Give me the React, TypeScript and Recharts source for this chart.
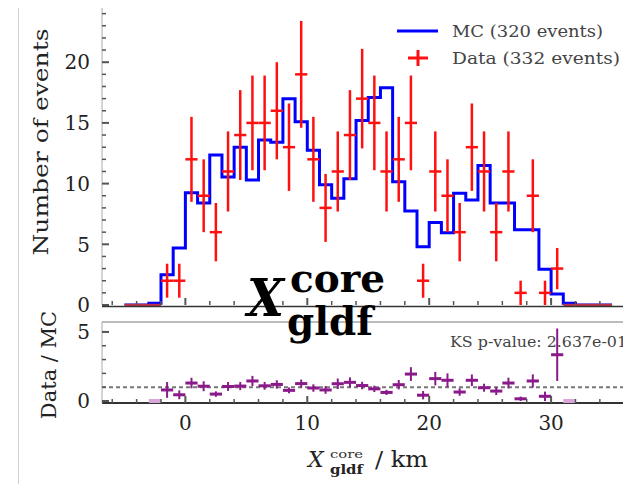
import React from 'react';
import { ComposedChart, Line, Scatter, ErrorBar, XAxis, YAxis, ReferenceLine, CartesianGrid } from 'recharts';

// histogram binning: 40 bins of 1 km starting at -5 km
const BIN_LO = -5;
const BIN_W = 1;

const MC_COUNTS = [
  0, 0, 0.15, 2.5, 4.7, 9.25, 8.4, 12.35, 10.55, 13.0,
  10.3, 13.6, 13.4, 17.0, 15.1, 12.75, 9.9, 8.8, 10.4, 15.2,
  17.1, 17.9, 10.15, 7.75, 4.8, 6.8, 5.95, 9.2, 8.65, 11.5,
  8.4, 8.4, 6.2, 6.2, 2.95, 0.9, 0.15, 0, 0, 0,
];

const DATA_COUNTS = [
  0, 0, 0, 2, 2, 12, 9, 6, 11, 14,
  15, 15, 16, 13, 19, 12, 8, 11, 14, 17,
  15, 11, 12, 15, 2, 11, 9, 6, 13, 11,
  6, 11, 1, 9, 1, 3, 0, 0, 0, 0,
];

const DATA_ERR = [
  0, 0, 0, 1.4, 1.4, 3.5, 3, 2.4, 3.3, 3.7,
  3.9, 3.9, 4, 3.6, 4.4, 3.5, 2.8, 3.3, 3.7, 4.1,
  3.9, 3.3, 3.5, 3.9, 1.4, 3.3, 3, 2.4, 3.6, 3.3,
  2.4, 3.3, 1, 3, 1, 1.7, 0, 0, 0, 0,
];

const RATIO = [
  null, null, 0, 0.8, 0.45, 1.3, 1.07, 0.5, 1.05, 1.08,
  1.45, 1.1, 1.2, 0.77, 1.26, 0.94, 0.8, 1.25, 1.35, 1.12,
  0.88, 0.62, 1.18, 1.95, 0.42, 1.62, 1.5, 0.65, 1.5, 0.96,
  0.72, 1.3, 0.16, 1.45, 0.34, 3.35, 0, null, null, null,
];

const RATIO_ERR = [
  0, 0, 0, 0.57, 0.32, 0.38, 0.36, 0.2, 0.32, 0.29,
  0.37, 0.28, 0.3, 0.21, 0.29, 0.27, 0.28, 0.38, 0.36, 0.27,
  0.23, 0.19, 0.34, 0.5, 0.3, 0.49, 0.5, 0.27, 0.42, 0.29,
  0.29, 0.39, 0.16, 0.48, 0.34, 1.9, 0, 0, 0, 0,
];

const X_TICKS = [-6, -4, -2, 0, 2, 4, 6, 8, 10, 12, 14, 16, 18, 20, 22, 24, 26, 28, 30, 32, 34, 36];
const Y_TICKS = [0, 1, 2, 3, 4, 5, 6, 7, 8, 9, 10, 11, 12, 13, 14, 15, 16, 17, 18, 19, 20, 21, 22, 23, 24];
const R_TICKS = [0, 1, 2, 3, 4, 5];

const LEGEND_MC = 'MC (320 events)';
const LEGEND_DATA = 'Data (332 events)';
const KS_TEXT = 'KS p-value: 2.637e-01';

const X_DOMAIN: [number, number] = [-6.84, 36.8];
const Y_DOMAIN: [number, number] = [0, 24.63];
const R_DOMAIN: [number, number] = [-0.145, 5.72];
const FONT = '"DejaVu Serif", serif';
const RED = '#ff1010';
const BLUE = '#0000ff';
const PURPLE = '#8a1a8a';

const half = BIN_W / 2;
const centre = (i: number) => BIN_LO + BIN_W * i + half;

// step line points: one per left edge, plus the closing right edge
const mcStep = MC_COUNTS.map((v, i) => ({ x: BIN_LO + BIN_W * i, mc: v }));
mcStep.push({ x: BIN_LO + BIN_W * MC_COUNTS.length, mc: MC_COUNTS[MC_COUNTS.length - 1] });

const dataPts = DATA_COUNTS.map((v, i) => ({ x: centre(i), y: v, ex: half, ey: DATA_ERR[i] })).filter((p) => p.y > 0);
const zeroPts = DATA_COUNTS.map((v, i) => ({ x: centre(i), y: v, ex: half })).filter((p) => p.y === 0);

const ratioPts = RATIO.map((r, i) => ({ x: centre(i), y: r, ex: half, ey: RATIO_ERR[i], n: DATA_COUNTS[i] }))
  .filter((p) => p.y !== null && p.n > 0);
const ratioZero = RATIO.map((r, i) => ({ x: centre(i), y: r, ex: half, n: DATA_COUNTS[i] }))
  .filter((p) => p.y !== null && p.n === 0);

const noDot = () => <g />;

const yTick = (side: 'left' | 'right', majorStep: number) => (props: any) => {
  const { x, y, payload } = props;
  const v = payload.value;
  const major = v % majorStep === 0;
  const dir = side === 'left' ? 1 : -1;
  return (
    <g>
      <line x1={x} x2={x + dir * (major ? 7 : 4)} y1={y} y2={y} stroke="#555" strokeWidth={major ? 2 : 1.5} />
      {side === 'left' && major && (
        <text x={x - 12} y={y} dy="0.36em" textAnchor="end" fontSize={20} fill="#222" fontFamily={FONT}>
          {v}
        </text>
      )}
    </g>
  );
};

const xTick = (side: 'top' | 'bottom', labels: boolean) => (props: any) => {
  const { x, y, payload } = props;
  const v = payload.value;
  const major = v % 10 === 0;
  const dir = side === 'bottom' ? -1 : 1;
  return (
    <g>
      <line x1={x} x2={x} y1={y} y2={y + dir * (major ? 7 : 4)} stroke="#555" strokeWidth={major ? 2 : 1.5} />
      {labels && major && (
        <text x={x} y={y + 27} textAnchor="middle" fontSize={20} fill="#222" fontFamily={FONT}>
          {v}
        </text>
      )}
    </g>
  );
};

const xAxisCommon = {
  type: 'number' as const,
  domain: X_DOMAIN,
  allowDataOverflow: true,
  ticks: X_TICKS,
  interval: 0 as const,
  height: 1,
  tickSize: 0,
  tickMargin: 0,
  axisLine: false,
};

const yAxisCommon = {
  type: 'number' as const,
  allowDataOverflow: true,
  interval: 0 as const,
  tickSize: 0,
  tickMargin: 0,
};

export default function App() {
  return (
    <div
      style={{
        position: 'relative',
        width: 631,
        height: 492,
        margin: -8,
        overflow: 'hidden',
        background: '#fff',
        fontFamily: FONT,
      }}
    >
      <div
        style={{
          position: 'absolute',
          left: 18,
          top: -10,
          width: 700,
          height: 497,
          border: '1px solid #d0d0d0',
        }}
      />

      {/* main panel */}
      <div style={{ position: 'absolute', left: 0, top: 0 }}>
        <ComposedChart width={640} height={320} margin={{ top: 5, right: 5, bottom: 14, left: 0 }}>
          <XAxis {...xAxisCommon} xAxisId="b" dataKey="x" tick={xTick('bottom', false)} />
          <XAxis {...xAxisCommon} xAxisId="t" orientation="top" tick={xTick('top', false)} />
          <YAxis
            {...yAxisCommon}
            yAxisId="l"
            domain={Y_DOMAIN}
            ticks={Y_TICKS}
            width={102}
            tick={yTick('left', 5)}
            axisLine={{ stroke: '#aaa', strokeWidth: 1 }}
          />
          <YAxis
            {...yAxisCommon}
            yAxisId="r"
            orientation="right"
            domain={Y_DOMAIN}
            ticks={[0, 5, 10, 15, 20]}
            width={1}
            tick={yTick('right', 5)}
            axisLine={false}
          />
          <Line
            xAxisId="b"
            yAxisId="l"
            data={mcStep}
            dataKey="mc"
            name={LEGEND_MC}
            type="stepAfter"
            stroke={BLUE}
            strokeWidth={3}
            dot={false}
            isAnimationActive={false}
          />
          <Scatter xAxisId="b" yAxisId="l" data={zeroPts} dataKey="y" shape={noDot} legendType="none" isAnimationActive={false}>
            <ErrorBar dataKey="ex" direction="x" width={0} stroke="#c03048" strokeWidth={2.5} isAnimationActive={false} />
          </Scatter>
          <Scatter xAxisId="b" yAxisId="l" data={dataPts} dataKey="y" name={LEGEND_DATA} shape={noDot} isAnimationActive={false}>
            <ErrorBar dataKey="ey" direction="y" width={0} stroke={RED} strokeWidth={2.5} isAnimationActive={false} />
            <ErrorBar dataKey="ex" direction="x" width={0} stroke={RED} strokeWidth={2.5} isAnimationActive={false} />
          </Scatter>
        </ComposedChart>
      </div>

      {/* ratio panel */}
      <div style={{ position: 'absolute', left: 0, top: 0 }}>
        <ComposedChart width={640} height={492} margin={{ top: 321, right: 5, bottom: 88, left: 0 }}>
          <CartesianGrid xAxisId="b" yAxisId="l" vertical={false} horizontalValues={[R_DOMAIN[0]]} stroke="#333" strokeWidth={2} />
          <CartesianGrid xAxisId="b" yAxisId="l" vertical={false} horizontalValues={[R_DOMAIN[1]]} stroke="#bbb" strokeWidth={2} />
          <XAxis {...xAxisCommon} xAxisId="b" dataKey="x" tick={xTick('bottom', true)} />
          <XAxis {...xAxisCommon} xAxisId="t" orientation="top" tick={xTick('top', false)} />
          <YAxis
            {...yAxisCommon}
            yAxisId="l"
            domain={R_DOMAIN}
            ticks={R_TICKS}
            width={102}
            tick={yTick('left', 5)}
            axisLine={{ stroke: '#aaa', strokeWidth: 1 }}
          />
          <YAxis
            {...yAxisCommon}
            yAxisId="r"
            orientation="right"
            domain={R_DOMAIN}
            ticks={[0, 5]}
            width={1}
            tick={yTick('right', 5)}
            axisLine={false}
          />
          <ReferenceLine xAxisId="b" yAxisId="l" y={1} stroke="#777" strokeWidth={2} strokeDasharray="4 3" />
          <Scatter xAxisId="b" yAxisId="l" data={ratioZero} dataKey="y" shape={noDot} isAnimationActive={false}>
            <ErrorBar dataKey="ex" direction="x" width={0} stroke="#d9a6d9" strokeWidth={4} isAnimationActive={false} />
          </Scatter>
          <Scatter xAxisId="b" yAxisId="l" data={ratioPts} dataKey="y" shape={noDot} isAnimationActive={false}>
            <ErrorBar dataKey="ey" direction="y" width={0} stroke={PURPLE} strokeWidth={2} isAnimationActive={false} />
            <ErrorBar dataKey="ex" direction="x" width={0} stroke={PURPLE} strokeWidth={3} isAnimationActive={false} />
          </Scatter>
        </ComposedChart>
      </div>

      {/* frame of the main panel, legend, titles and overlay labels */}
      <svg width={631} height={492} style={{ position: 'absolute', left: 0, top: 0, pointerEvents: 'none' }}>
        <rect x={102} y={5} width={540} height={3} fill="#888" />
        <line x1={102} x2={640} y1={306.5} y2={306.5} stroke="#333" strokeWidth={1.5} />

        <line x1={397} x2={438} y1={31} y2={31} stroke={BLUE} strokeWidth={3} />
        <text x={452} y={36.5} fontSize={16} fill="#444" fontFamily={FONT} textLength={151} lengthAdjust="spacingAndGlyphs">
          {LEGEND_MC}
        </text>
        <line x1={408} x2={428} y1={58} y2={58} stroke={RED} strokeWidth={3} />
        <line x1={418} x2={418} y1={50} y2={66} stroke={RED} strokeWidth={3} />
        <text x={452} y={63.5} fontSize={16} fill="#444" fontFamily={FONT} textLength={168} lengthAdjust="spacingAndGlyphs">
          {LEGEND_DATA}
        </text>

        <text
          transform="translate(48,142) rotate(-90)"
          textAnchor="middle"
          fontSize={21}
          fill="#222"
          fontFamily={FONT}
          textLength={227}
          lengthAdjust="spacingAndGlyphs"
        >
          Number of events
        </text>
        <text transform="translate(56,365) rotate(-90)" textAnchor="middle" fontSize={21} fill="#222" fontFamily={FONT}>
          Data / MC
        </text>
        <text x={450} y={347} fontSize={14} fill="#444" fontFamily={FONT} textLength={177} lengthAdjust="spacingAndGlyphs">
          {KS_TEXT}
        </text>

        <text x={308} y={467} fontSize={22} fontStyle="italic" fill="#222" fontFamily={FONT}>X</text>
        <text x={330} y={458} fontSize={11} fill="#333" fontFamily={FONT} textLength={33} lengthAdjust="spacingAndGlyphs">core</text>
        <text x={330} y={474} fontSize={13} fontWeight="bold" fill="#222" fontFamily={FONT} textLength={33} lengthAdjust="spacingAndGlyphs">gldf</text>
        <text x={375} y={467} fontSize={22} fill="#222" fontFamily={FONT} textLength={53} lengthAdjust="spacingAndGlyphs">/ km</text>

        <text x={247} y={316} fontSize={53} fontWeight="bold" fontStyle="italic" fill="#000" fontFamily={FONT} textLength={37} lengthAdjust="spacingAndGlyphs">X</text>
        <text x={290} y={292} fontSize={40} fontWeight="bold" fill="#000" fontFamily={FONT} textLength={95} lengthAdjust="spacingAndGlyphs">core</text>
        <text x={287} y={335} fontSize={40} fontWeight="bold" fill="#000" fontFamily={FONT} textLength={86} lengthAdjust="spacingAndGlyphs">gldf</text>
      </svg>
    </div>
  );
}
